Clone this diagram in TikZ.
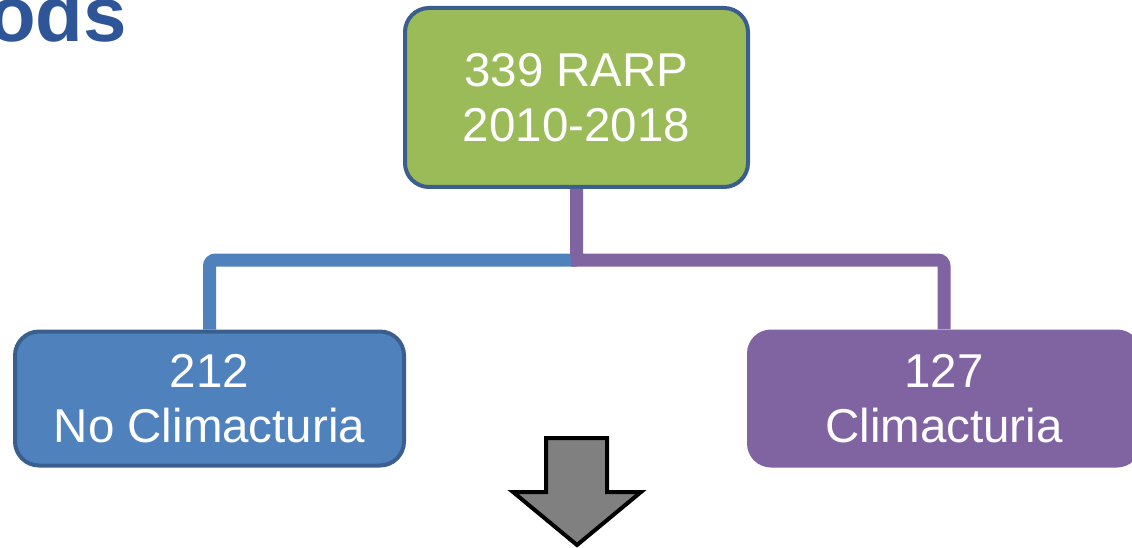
\documentclass[tikz,border=0pt]{standalone}
\usepackage{fontspec}
\setmainfont{Liberation Sans}
\definecolor{titleblue}{HTML}{2E5597}
\definecolor{boxgreen}{HTML}{9BBB59}
\definecolor{boxblue}{HTML}{4F81BD}
\definecolor{boxborder}{HTML}{3A5F8E}
\definecolor{boxpurple}{HTML}{8064A2}
\definecolor{arrowgray}{HTML}{808080}
\tikzset{
  box/.style={rounded corners=24pt, align=center, text=white,
    font=\fontsize{47.5}{55}\selectfont, inner sep=0pt},
  bordered/.style={draw=boxborder, line width=4pt},
  link/.style={line width=13pt, rounded corners=6pt},
}
\begin{document}
\begin{tikzpicture}[x=1pt,y=-1pt]
\useasboundingbox (0,0) rectangle (1132,548);
\clip (0,0) rectangle (1132,548);
\node[anchor=base east, font=\fontsize{78}{78}\selectfont\bfseries, text=titleblue, inner sep=0pt] (title) at (127,42) {Methods};
\coordinate (split) at (577,260);
\node[box, bordered, fill=boxgreen, minimum width=343pt, minimum height=179pt] (top) at (576.5,97.5) {339 RARP\\2010-2018};
\node[box, bordered, fill=boxblue, minimum width=389pt, minimum height=134pt] (left) at (209.5,398.5) {212\\No Climacturia};
\node[box, fill=boxpurple, minimum width=394pt, minimum height=138pt] (right) at (944,398.5) {127\\Climacturia};
\begin{scope}[on background layer/.try]
\end{scope}
\draw[link, draw=boxblue] (split) -| (left.north);
\draw[link, draw=boxpurple] (top.south) |- (split) -| (right.north);
\draw[fill=arrowgray, draw=black, line width=4pt, miter limit=10]
  (546,438) -- (607,438) -- (607,492) -- (641,492) -- (577,545) -- (513,492) -- (546,492) -- cycle;
\end{tikzpicture}
\end{document}
